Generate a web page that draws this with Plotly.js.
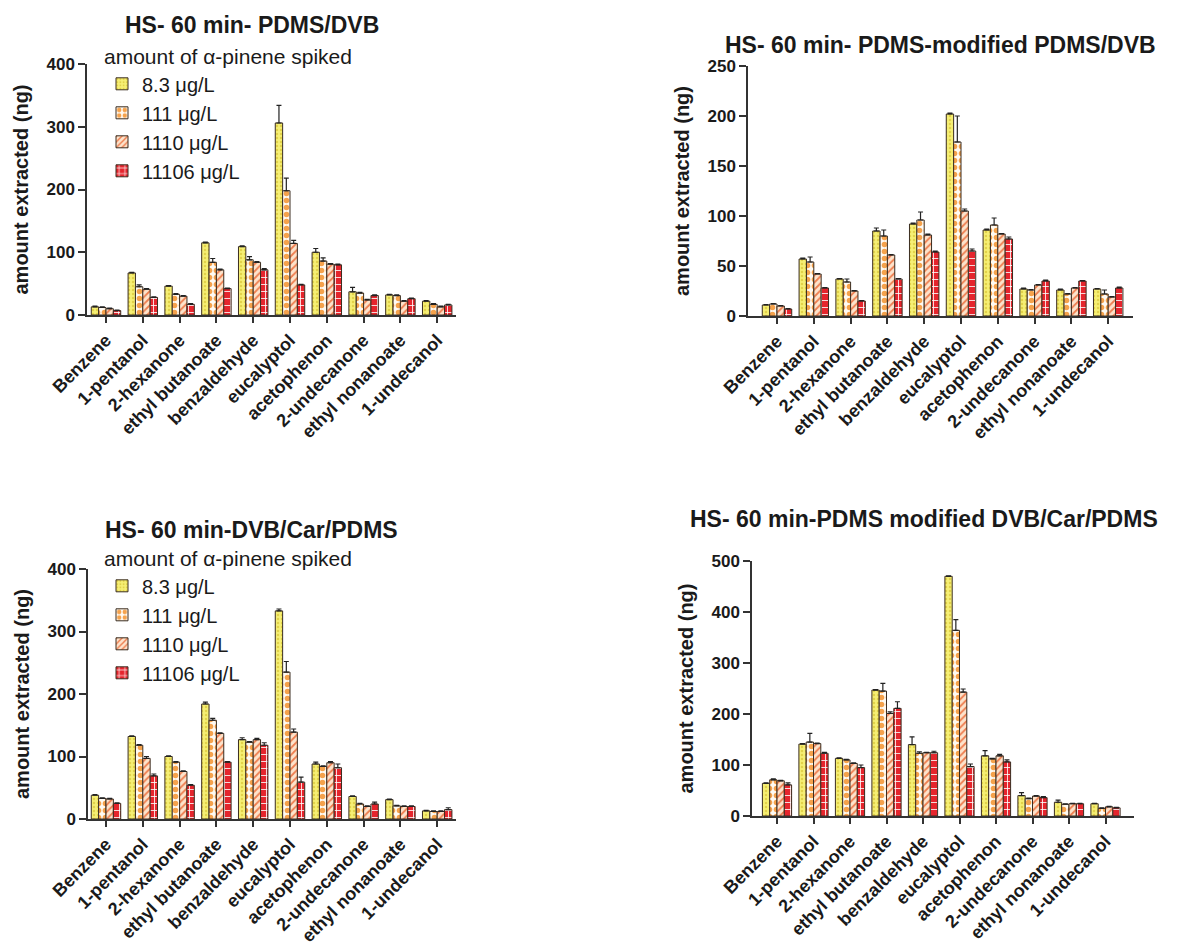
<!DOCTYPE html>
<html>
<head>
<meta charset="utf-8">
<script src="https://cdn.plot.ly/plotly-3.0.1.min.js"></script>
<style>
html,body{margin:0;padding:0;background:#fff;}
#chart{width:1181px;height:945px;}
</style>
</head>
<body>
<div id="chart"></div>
<script>
// ---------- DATA ----------
const categories = ["Benzene","1-pentanol","2-hexanone","ethyl butanoate","benzaldehyde","eucalyptol","acetophenon","2-undecanone","ethyl nonanoate","1-undecanol"];
const seriesNames = ["8.3 μg/L","111 μg/L","1110 μg/L","11106 μg/L"];
const panelTitles = ["HS- 60 min- PDMS/DVB","HS- 60 min- PDMS-modified PDMS/DVB","HS- 60 min-DVB/Car/PDMS","HS- 60 min-PDMS modified DVB/Car/PDMS"];
const yTitle = "amount extracted (ng)";
const legendTitle = "amount of α-pinene spiked";

// Panel 1: HS- 60 min- PDMS/DVB
const p1_v83    = [13, 67, 46, 115, 109, 306, 100, 37, 32, 22];
const p1_e83    = [1, 1, 1, 1, 1, 28, 6, 7, 1, 1];
const p1_v111   = [12, 45, 33, 84, 88, 198, 86, 35, 31, 17];
const p1_e111   = [1, 3, 1, 6, 5, 20, 5, 1, 1, 1];
const p1_v1110  = [10, 41, 30, 72, 84, 114, 81, 24, 22, 13];
const p1_e1110  = [1, 1, 1, 1, 1, 5, 1, 1, 1, 1];
const p1_v11106 = [7, 28, 17, 42, 72, 48, 80, 31, 26, 16];
const p1_e11106 = [1, 1, 1, 1, 2, 1, 1, 1, 1, 1];

// Panel 2: HS- 60 min- PDMS-modified PDMS/DVB
const p2_v83    = [11, 57, 37, 85, 92, 202, 86, 27, 26, 27];
const p2_e83    = [0.5, 1, 0.5, 3, 1, 1, 1, 1, 1, 0.5];
const p2_v111   = [12, 54, 34, 80, 96, 174, 91, 26, 22, 22];
const p2_e111   = [0.5, 5, 3, 6, 8, 26, 7, 0.5, 0.5, 4];
const p2_v1110  = [10, 42, 25, 61, 81, 105, 82, 31, 28, 19];
const p2_e1110  = [0.5, 0.5, 0.5, 0.5, 1, 2, 0.5, 0.5, 0.5, 0.5];
const p2_v11106 = [7, 28, 15, 37, 64, 65, 77, 35, 35, 28];
const p2_e11106 = [0.5, 0.5, 0.5, 0.5, 1, 2, 2, 1, 0.5, 1];

// Panel 3: HS- 60 min-DVB/Car/PDMS
const p3_v83    = [38, 132, 100, 184, 127, 333, 88, 36, 31, 13];
const p3_e83    = [1, 1, 1, 3, 3, 3, 3, 1, 1, 1];
const p3_v111   = [33, 118, 91, 158, 123, 235, 84, 24, 21, 12];
const p3_e111   = [1, 1, 1, 3, 1, 17, 1, 1, 1, 1];
const p3_v1110  = [32, 97, 76, 137, 127, 139, 90, 20, 20, 12];
const p3_e1110  = [1, 3, 1, 1, 2, 5, 2, 1, 1, 1];
const p3_v11106 = [25, 69, 54, 91, 118, 59, 82, 24, 20, 15];
const p3_e11106 = [1, 3, 1, 1, 4, 8, 6, 3, 1, 3];

// Panel 4: HS- 60 min-PDMS modified DVB/Car/PDMS
const p4_v83    = [64, 141, 113, 247, 140, 470, 118, 40, 27, 24];
const p4_e83    = [1, 1, 1, 1, 15, 1, 10, 6, 4, 1];
const p4_v111   = [71, 145, 110, 245, 123, 364, 112, 34, 23, 15];
const p4_e111   = [2, 17, 1, 15, 3, 21, 1, 1, 1, 1];
const p4_v1110  = [69, 142, 103, 201, 124, 243, 118, 39, 24, 18];
const p4_e1110  = [1, 1, 1, 3, 1, 6, 3, 1, 1, 1];
const p4_v11106 = [61, 123, 95, 211, 124, 97, 106, 36, 24, 16];
const p4_e11106 = [4, 2, 5, 13, 3, 5, 4, 2, 1, 1];

const yRanges = [[0, 400], [0, 250], [0, 400], [0, 500]];
const yTicks  = [100, 50, 100, 100];

// ---------- STYLE ----------
const W = 1181, H = 945;
const FONT = "Arial, 'Liberation Sans', Helvetica, sans-serif";
const styles = [
  {bg: "#f6ef74", fg: "#e2d24a", shape: ".", size: 4, solidity: 0.3},
  {bg: "#fffaf2", fg: "#f5a24c", shape: ".", size: 7, solidity: 0.5},
  {bg: "#fde3cb", fg: "#ee7d4e", shape: "/", size: 5, solidity: 0.35},
  {bg: "#e5252d", fg: "#ffffff", shape: "+", size: 7, solidity: 0.22}
];
// pixel geometry: y-axis x, first category centre, spacing, x-axis end, y of zero, y of top tick
const geom = [
  {ax: 87,  c0: 106, s: 36.8, end: 456,  y0: 315, yt: 64},
  {ax: 748, c0: 777, s: 36.8, end: 1133, y0: 316, yt: 66},
  {ax: 88,  c0: 106, s: 36.8, end: 456,  y0: 819, yt: 569},
  {ax: 752, c0: 777, s: 36.5, end: 1134, y0: 816, yt: 561}
];
const titlePos = [[252, 25], [941, 45], [251, 530], [924, 519]];
const legendTops = [37, 539];

const panels = [
  [[p1_v83,p1_e83],[p1_v111,p1_e111],[p1_v1110,p1_e1110],[p1_v11106,p1_e11106]],
  [[p2_v83,p2_e83],[p2_v111,p2_e111],[p2_v1110,p2_e1110],[p2_v11106,p2_e11106]],
  [[p3_v83,p3_e83],[p3_v111,p3_e111],[p3_v1110,p3_e1110],[p3_v11106,p3_e11106]],
  [[p4_v83,p4_e83],[p4_v111,p4_e111],[p4_v1110,p4_e1110],[p4_v11106,p4_e11106]]
];

const traces = [];
panels.forEach((panel, pi) => {
  const sfx = pi === 0 ? "" : String(pi + 1);
  panel.forEach((pair, si) => {
    const st = styles[si];
    traces.push({
      type: "bar",
      x: categories,
      y: pair[0],
      name: seriesNames[si],
      xaxis: "x" + sfx,
      yaxis: "y" + sfx,
      legend: pi === 2 ? "legend2" : "legend",
      showlegend: pi === 0 || pi === 2,
      marker: {
        color: st.bg,
        line: {color: "#3a2d20", width: 1},
        pattern: {shape: st.shape, fgcolor: st.fg, bgcolor: st.bg, size: st.size, solidity: st.solidity, fillmode: "replace"}
      },
      error_y: {type: "data", symmetric: false, array: pair[1], arrayminus: pair[1].map(() => 0),
                color: "#222", thickness: 1.2, width: 2.5},
      hoverinfo: "x+y+name"
    });
  });
});

function makeLegend(top) {
  return {
    x: 102 / W, y: 1 - top / H, xanchor: "left", yanchor: "top",
    bgcolor: "rgba(0,0,0,0)", font: {family: FONT, size: 20, color: "#1a1a1a"},
    title: {text: legendTitle, side: "top", font: {family: FONT, size: 21, color: "#1a1a1a"}},
    tracegroupgap: 0, itemwidth: 30
  };
}

const layout = {
  width: W, height: H,
  margin: {l: 0, r: 0, t: 0, b: 0},
  paper_bgcolor: "#fff", plot_bgcolor: "rgba(0,0,0,0)",
  font: {family: FONT, color: "#1a1a1a"},
  barmode: "group", bargap: 0.2, bargroupgap: 0,
  annotations: [],
  legend: makeLegend(legendTops[0]),
  legend2: makeLegend(legendTops[1])
};

geom.forEach((g, pi) => {
  const sfx = pi === 0 ? "" : String(pi + 1);
  const n = categories.length - 1;
  const left = (g.ax - g.c0) / g.s;
  const right = n + (g.end - (g.c0 + n * g.s)) / g.s;
  layout["xaxis" + sfx] = {
    domain: [g.ax / W, g.end / W],
    anchor: "y" + sfx,
    type: "category",
    range: [left, right],
    showline: true, linecolor: "#333", linewidth: 1.5,
    ticks: "outside", ticklen: 6, tickwidth: 1.5, tickcolor: "#333",
    tickangle: -45,
    tickfont: {family: FONT, size: 18, color: "#1a1a1a", weight: "bold"},
    showgrid: false, zeroline: false, fixedrange: true
  };
  layout["yaxis" + sfx] = {
    domain: [1 - g.y0 / H, 1 - g.yt / H],
    anchor: "x" + sfx,
    range: yRanges[pi],
    dtick: yTicks[pi], tick0: 0,
    showline: true, linecolor: "#333", linewidth: 1.5,
    ticks: "outside", ticklen: 7, tickwidth: 1.5, tickcolor: "#333",
    tickfont: {family: FONT, size: 17, color: "#1a1a1a", weight: "bold"},
    showgrid: false, zeroline: false, fixedrange: true,
    title: {text: yTitle, standoff: 12, font: {family: FONT, size: 20, color: "#1a1a1a", weight: "bold"}}
  };
  layout.annotations.push({
    text: "<b>" + panelTitles[pi] + "</b>",
    xref: "paper", yref: "paper",
    x: titlePos[pi][0] / W, y: 1 - titlePos[pi][1] / H,
    xanchor: "center", yanchor: "middle", showarrow: false,
    font: {family: FONT, size: 23, color: "#1a1a1a"}
  });
});

Plotly.newPlot("chart", traces, layout, {displayModeBar: false});
</script>
</body>
</html>
